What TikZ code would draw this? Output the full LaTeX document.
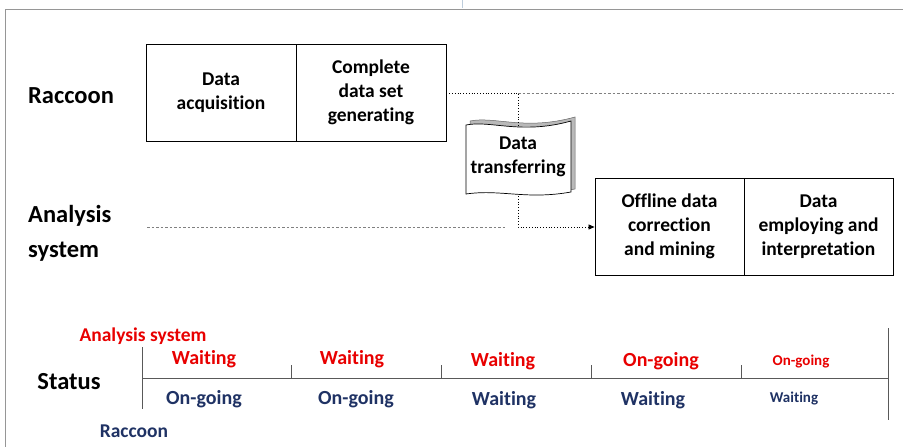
\documentclass[tikz,border=0pt]{standalone}
\usepackage{fontspec}
\setmainfont{Carlito}[Ligatures=NoCommon]
\usetikzlibrary{arrows.meta}
\definecolor{myred}{RGB}{232,0,0}
\definecolor{mynavy}{RGB}{31,50,100}
\definecolor{frame}{RGB}{150,150,150}
\begin{document}
\begin{tikzpicture}[x=1pt,y=-1pt,
  box/.style={draw,line width=0.9pt,minimum width=150pt,minimum height=97pt,align=center,inner sep=0pt,font=\fontsize{19.5}{24}\selectfont\bfseries},
  rowlabel/.style={font=\fontsize{24.5}{35}\selectfont\bfseries,align=left,anchor=west,inner sep=0pt},
  redst/.style={text=myred,font=\fontsize{20}{22}\selectfont\bfseries,inner sep=0pt},
  bluest/.style={text=mynavy,font=\fontsize{20}{22}\selectfont\bfseries,inner sep=0pt},
  conn/.style={line width=0.8pt,dotted},
  guide/.style={line width=0.6pt,gray,dash pattern=on 2.5pt off 2pt}]
\useasboundingbox (0,0) rectangle (903,447);
% frame
\draw[frame,line width=0.8pt] (903,9) -- (5,9) -- (5,447);
\draw[color={rgb,255:red,190;green,205;blue,220},line width=0.8pt] (462,0) -- (462,8);
% labels
\node[rowlabel] (lr) at (28,96) {Raccoon};
\node[rowlabel] (la) at (28,233) {Analysis\\system};
% top boxes
\node[box] (b1) at (221,92.5) {Data\\acquisition};
\node[box] (b2) at (371,92.5) {Complete\\data set\\generating};
% bottom boxes
\node[box,minimum width=149pt] (b3) at (669.5,226.5) {Offline data\\correction\\and mining};
\node[box,minimum width=149pt] (b4) at (818.5,226.5) {Data\\employing and\\interpretation};
% guide lines
\coordinate (g1a) at (518,93);
\coordinate (g1b) at (894,93);
\draw[guide] (g1a) -- (g1b);
\coordinate (g2a) at (147,227);
\coordinate (g2b) at (505,227);
\draw[guide] (g2a) -- (g2b);
% transfer shape
\fill[gray!55,draw=gray!80!black,line width=0.5pt]
  (470,121) .. controls (495,116) and (525,131) .. (575,117)
  -- (575,189) .. controls (530,197) and (505,186) .. (470,190) -- cycle;
\draw[fill=white,line width=0.7pt]
  (466,125) .. controls (491,120) and (521,135) .. (571,121)
  -- (571,192) .. controls (526,200) and (501,189) .. (466,194) -- cycle;
\node[font=\fontsize{19.5}{24}\selectfont\bfseries,align=center,inner sep=0pt] (tr) at (518,157) {Data\\transferring};
\coordinate (trt) at (518,127);
\coordinate (trb) at (518,196);
\coordinate (c1) at (518,93);
\coordinate (c2) at (518,227);
\draw[conn] (b2.east |- c1) -- (c1) -- (trt);
\draw[conn,-{Triangle[length=6pt,width=5pt]}] (trb) -- (c2) -- (b3.west |- c2);
% status timeline
\node[font=\fontsize{24.5}{26}\selectfont\bfseries,inner sep=0pt] (st) at (69,382) {Status};
\node[text=myred,font=\fontsize{19.5}{22}\selectfont\bfseries,inner sep=0pt] (asl) at (143,336) {Analysis system};
\node[text=mynavy,font=\fontsize{19.5}{22}\selectfont\bfseries,inner sep=0pt] (rcl) at (134,431) {Raccoon};
\coordinate (t0a) at (142,347);
\coordinate (t0b) at (142,409);
\coordinate (hl) at (142,378);
\coordinate (hr) at (888,378);
\coordinate (t5a) at (888,328);
\coordinate (t5b) at (888,420);
\draw[line width=0.6pt,gray!70!black] (t0a) -- (t0b);
\draw[line width=0.8pt,gray!70!black] (hl) -- (hr);
\draw[line width=0.6pt,gray!70!black] (t5a) -- (t5b);
\foreach \x in {291,441,591,741} {
  \draw[line width=0.6pt,gray!70!black] (\x,365) -- (\x,378);
}
\node[redst] (r1) at (204,359) {Waiting};
\node[redst] (r2) at (352,359) {Waiting};
\node[redst] (r3) at (503,361) {Waiting};
\node[redst] (r4) at (661,361) {On-going};
\node[redst,font=\fontsize{15}{16}\selectfont\bfseries] (r5) at (801,362) {On-going};
\node[bluest] (u1) at (204,399) {On-going};
\node[bluest] (u2) at (356,399) {On-going};
\node[bluest] (u3) at (504,400) {Waiting};
\node[bluest] (u4) at (653,400) {Waiting};
\node[bluest,font=\fontsize{15}{16}\selectfont\bfseries] (u5) at (794,399) {Waiting};
\end{tikzpicture}
\end{document}
